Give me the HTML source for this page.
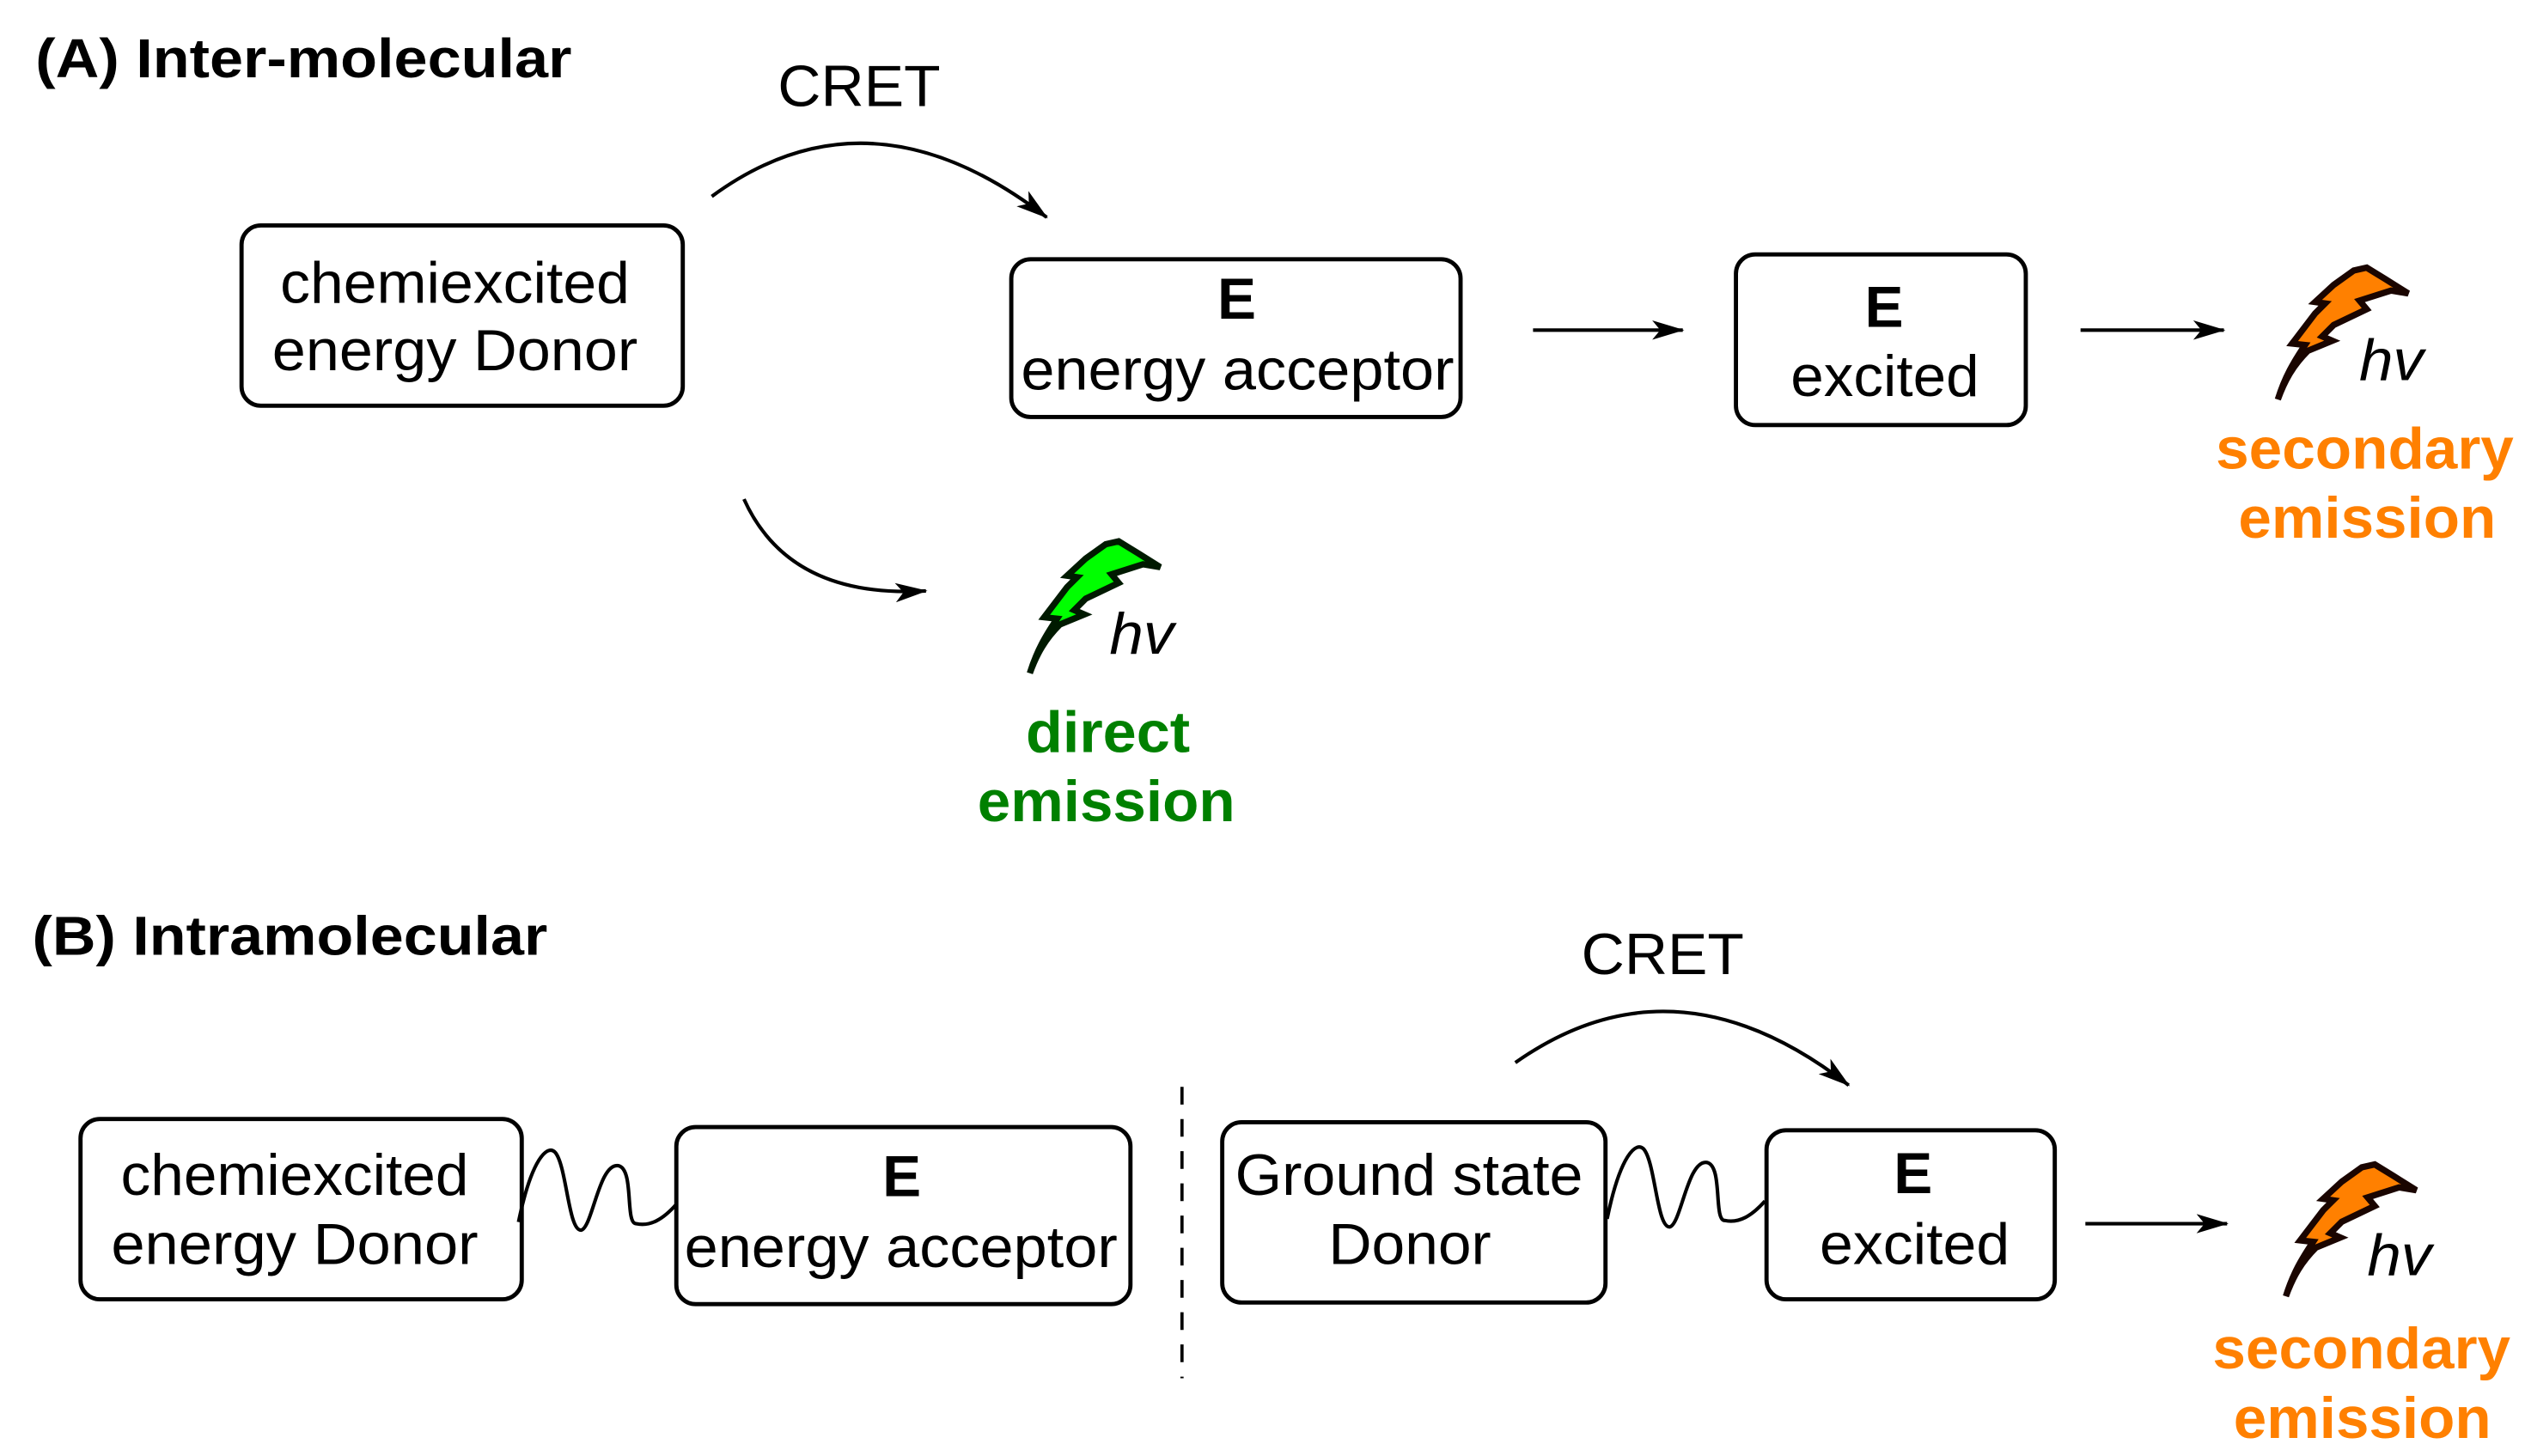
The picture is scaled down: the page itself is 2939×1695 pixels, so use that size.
<!DOCTYPE html>
<html><head><meta charset="utf-8"><style>
html,body{margin:0;padding:0;background:#fff;}
svg{display:block;}
text{font-family:"Liberation Sans",Arial,sans-serif;}
</style></head><body>
<svg width="2939" height="1695" viewBox="0 0 1568 904.3" xmlns="http://www.w3.org/2000/svg">
<defs>
<marker id="ah2" markerWidth="20" markerHeight="12" refX="19" refY="6" orient="auto" markerUnits="userSpaceOnUse" viewBox="0 0 20 12">
<path d="M0,0 L20,6 L0,12 L5,6 Z" fill="#000"/>
</marker>
<path id="bolt" d="M145,550 C170,470 200,420 240,360 L195,355 L275,250 L310,215 L275,210 L340,150 L410,100 L455,90 L520,130 L600,180 L540,170 L430,205 L455,235 L340,290 L300,330 L335,345 L250,380 C200,430 170,480 145,550 Z" stroke-width="22" stroke-linejoin="miter"/>
</defs>
<rect width="1568" height="904.3" fill="#fff"/>

<!-- (A) -->
<text x="22" y="48" font-size="34" font-weight="bold" textLength="333" lengthAdjust="spacingAndGlyphs">(A) Inter-molecular</text>
<text x="483" y="66" font-size="36" textLength="101" lengthAdjust="spacingAndGlyphs">CRET</text>
<path d="M442,122 Q540,50 650,135" fill="none" stroke="#000" stroke-width="2.2" marker-end="url(#ah2)"/>

<g fill="#fff" stroke="#000" stroke-width="2.6">
<rect x="150" y="140" width="274" height="112" rx="12"/>
<rect x="628" y="161" width="279" height="98" rx="12"/>
<rect x="1078" y="158" width="180" height="106" rx="12"/>
</g>
<g font-size="36" lengthAdjust="spacingAndGlyphs">
<text x="174" y="188" textLength="217" lengthAdjust="spacingAndGlyphs">chemiexcited</text>
<text x="169" y="230" textLength="227" lengthAdjust="spacingAndGlyphs">energy Donor</text>
<text x="768" y="198" font-weight="bold" text-anchor="middle">E</text>
<text x="634" y="242" textLength="269" lengthAdjust="spacingAndGlyphs">energy acceptor</text>
<text x="1170" y="203" font-weight="bold" text-anchor="middle">E</text>
<text x="1112" y="246" textLength="117" lengthAdjust="spacingAndGlyphs">excited</text>
</g>
<line x1="952" y1="205" x2="1045" y2="205" stroke="#000" stroke-width="2.2" marker-end="url(#ah2)"/>
<line x1="1292" y1="205" x2="1381" y2="205" stroke="#000" stroke-width="2.2" marker-end="url(#ah2)"/>

<use href="#bolt" transform="translate(1388.7,150.2) scale(0.178)" fill="#ff8000" stroke="#1a0500"/>
<text x="1465" y="236" font-size="36" font-style="italic" textLength="40" lengthAdjust="spacingAndGlyphs">hv</text>
<g font-size="36" font-weight="bold" fill="#ff8000">
<text x="1376" y="291" textLength="185" lengthAdjust="spacingAndGlyphs">secondary</text>
<text x="1390" y="334" textLength="160" lengthAdjust="spacingAndGlyphs">emission</text>
</g>

<path d="M462,310 Q490,372 575,367" fill="none" stroke="#000" stroke-width="2.2" marker-end="url(#ah2)"/>
<use href="#bolt" transform="translate(613.7,320.2) scale(0.178)" fill="#00ff00" stroke="#001a00"/>
<text x="689" y="406" font-size="36" font-style="italic" textLength="40" lengthAdjust="spacingAndGlyphs">hv</text>
<g font-size="36" font-weight="bold" fill="#008000">
<text x="637" y="467" textLength="102" lengthAdjust="spacingAndGlyphs">direct</text>
<text x="607" y="510" textLength="160" lengthAdjust="spacingAndGlyphs">emission</text>
</g>

<!-- (B) -->
<text x="20" y="593" font-size="34" font-weight="bold" textLength="320" lengthAdjust="spacingAndGlyphs">(B) Intramolecular</text>
<text x="982" y="605" font-size="36" textLength="101" lengthAdjust="spacingAndGlyphs">CRET</text>
<path d="M941,660 Q1040,590 1148,674" fill="none" stroke="#000" stroke-width="2.2" marker-end="url(#ah2)"/>

<g fill="#fff" stroke="#000" stroke-width="2.6">
<rect x="50" y="695" width="274" height="112" rx="12"/>
<rect x="420" y="700" width="282" height="110" rx="12"/>
<rect x="759" y="697" width="238" height="112" rx="12"/>
<rect x="1097" y="702" width="179" height="105" rx="12"/>
</g>
<g fill="none" stroke="#000" stroke-width="2.2">
<path d="M322,759 C330,720 340,710 345,716 C352,725 353,765 361,764 C368,762 372,722 384,724 C394,726 388,760 395,760 C404,762 412,757 420,748"/>
<path transform="translate(676,-2)" d="M322,759 C330,720 340,710 345,716 C352,725 353,765 361,764 C368,762 372,722 384,724 C394,726 388,760 395,760 C404,762 412,757 420,748"/>
</g>
<line x1="734" y1="675" x2="734" y2="856" stroke="#000" stroke-width="2" stroke-dasharray="11,9"/>
<g font-size="36">
<text x="75" y="742" textLength="216" lengthAdjust="spacingAndGlyphs">chemiexcited</text>
<text x="69" y="785" textLength="228" lengthAdjust="spacingAndGlyphs">energy Donor</text>
<text x="560" y="743" font-weight="bold" text-anchor="middle">E</text>
<text x="425" y="787" textLength="269" lengthAdjust="spacingAndGlyphs">energy acceptor</text>
<text x="767" y="742" textLength="216" lengthAdjust="spacingAndGlyphs">Ground state</text>
<text x="825" y="785" textLength="101" lengthAdjust="spacingAndGlyphs">Donor</text>
<text x="1188" y="741" font-weight="bold" text-anchor="middle">E</text>
<text x="1130" y="785" textLength="118" lengthAdjust="spacingAndGlyphs">excited</text>
</g>
<line x1="1295" y1="760" x2="1383" y2="760" stroke="#000" stroke-width="2.2" marker-end="url(#ah2)"/>
<use href="#bolt" transform="translate(1393.7,707.2) scale(0.178)" fill="#ff8000" stroke="#1a0500"/>
<text x="1470" y="792" font-size="36" font-style="italic" textLength="40" lengthAdjust="spacingAndGlyphs">hv</text>
<g font-size="36" font-weight="bold" fill="#ff8000">
<text x="1374" y="850" textLength="185" lengthAdjust="spacingAndGlyphs">secondary</text>
<text x="1387" y="893" textLength="160" lengthAdjust="spacingAndGlyphs">emission</text>
</g>
</svg>
</body></html>
